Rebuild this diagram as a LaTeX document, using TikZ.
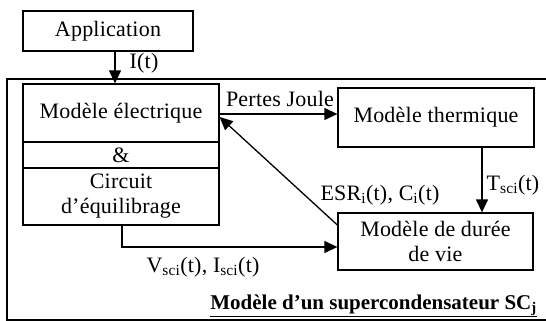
\documentclass[tikz,border=0pt]{standalone}
\usepackage{fontspec}
\setmainfont{Liberation Serif}
\usetikzlibrary{arrows.meta}
\begin{document}
\begin{tikzpicture}[x=1pt,y=-1pt,
  box/.style={draw,line width=1.3pt,inner sep=0pt,align=center,font=\fontsize{22}{25}\selectfont\addfontfeature{LetterSpace=1}},
  lbl/.style={inner sep=0pt,font=\fontsize{22}{25}\selectfont\addfontfeature{LetterSpace=1}},
  arr/.style={line width=1.3pt,-{Triangle[length=13pt,width=12pt]}},
  wire/.style={line width=1.3pt}]
\useasboundingbox (0,0) rectangle (546,321);
% outer frame (open to the right)
\draw[wire] (560,79) -- (7,79) -- (7,320) -- (560,320);
% boxes
\node[box,minimum width=170pt,minimum height=40pt] (app) at (108,31) {Application};
\node[box,minimum width=196pt,minimum height=58pt] (elec) at (121,113) {Modèle électrique};
\node[box,minimum width=196pt,minimum height=26pt] (amp) at (121,155) {\&};
\node[box,minimum width=196pt,minimum height=57pt] (circ) at (121,196.5) {Circuit\\d’équilibrage};
\node[box,minimum width=196pt,minimum height=59pt] (therm) at (436,117.5) {Modèle thermique};
\node[box,minimum width=195pt,minimum height=57pt] (vie) at (435.5,241.5) {Modèle de durée\\de vie};
% helper coordinates
\coordinate (ax) at (115,0);
\coordinate (pj) at (0,114);
\coordinate (tx) at (482,0);
\coordinate (es) at (0,225);
\coordinate (ee) at (0,117);
\coordinate (vx) at (122,0);
\coordinate (vy) at (0,247);
% connectors
\draw[arr] (app.south -| ax) -- (elec.north -| ax);
\draw[arr] (elec.east |- pj) -- (therm.west |- pj);
\draw[arr] (therm.south -| tx) -- (vie.north -| tx);
\draw[arr] (vie.west |- es) -- (elec.east |- ee);
\draw[arr] (circ.south -| vx) |- (vie.west |- vy);
% labels
\node[lbl] (lI) at (144,63) {I(t)};
\node[lbl] (lpj) at (280,99) {Pertes Joule};
\node[lbl] (lT) at (513,185) {T\textsubscript{sci}(t)};
\node[lbl] (lE) at (380,195) {ESR\textsubscript{i}(t), C\textsubscript{i}(t)};
\node[lbl] (lV) at (203,267) {V\textsubscript{sci}(t), I\textsubscript{sci}(t)};
\node[lbl,anchor=base east,font=\fontsize{21}{23}\selectfont\bfseries] (title) at (537,309) {\underline{Modèle d’un supercondensateur SC\textsubscript{j}}};
\end{tikzpicture}
\end{document}
